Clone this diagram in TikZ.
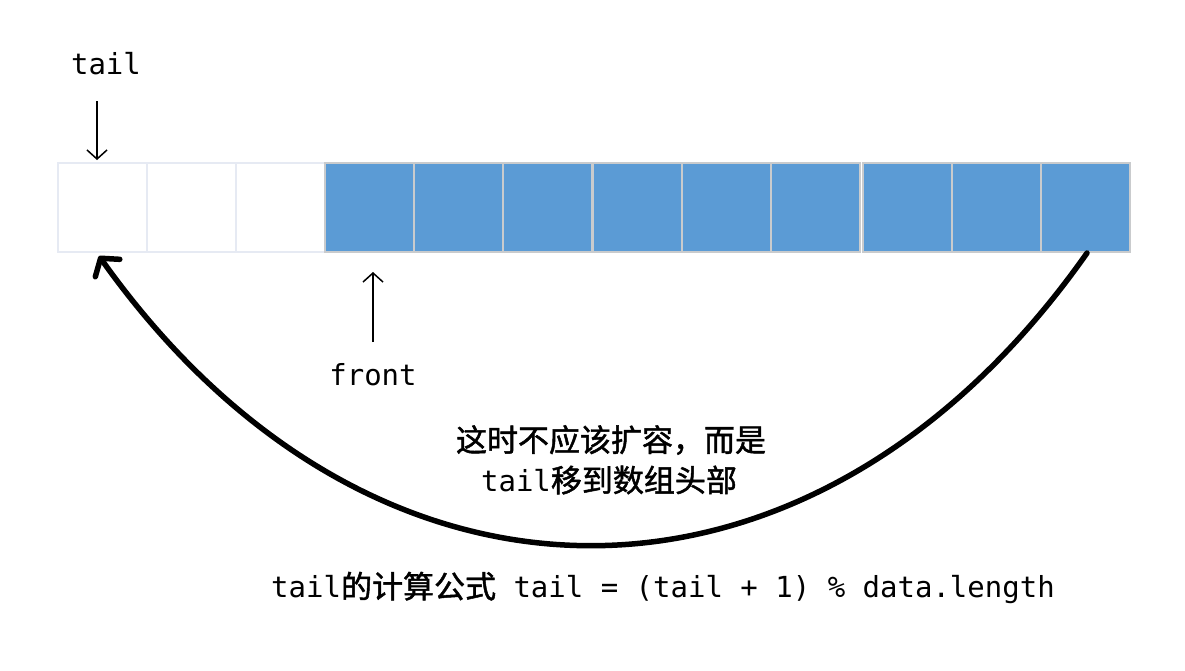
\documentclass[tikz,border=0pt]{standalone}
\usepackage{fontspec}
\setmonofont{DejaVu Sans Mono}
\newfontfamily\cjk[AutoFakeBold=1.5]{Noto Sans CJK SC}
\usetikzlibrary{arrows.meta}
\definecolor{cellblue}{HTML}{5B9BD5}
\definecolor{emptyedge}{HTML}{E6EAF3}
\definecolor{blueedge}{HTML}{C9CBCD}
\newcommand{\cjkbig}[1]{{\cjk\bfseries\fontsize{31}{40}\selectfont #1}}
\tikzset{
  cellbox/.style={minimum width=89pt, minimum height=89pt, inner sep=0pt, outer sep=0pt, anchor=north west, line width=1.2pt},
  emptycell/.style={cellbox, draw=emptyedge, fill=white},
  fullcell/.style={cellbox, draw=blueedge, fill=cellblue},
  monolbl/.style={font=\ttfamily\fontsize{29}{36}\selectfont, inner sep=0pt},
  cjklbl/.style={font=\ttfamily\fontsize{29}{40}\selectfont, inner sep=0pt, align=center},
  thinarrow/.style={line width=1.5pt, -{Straight Barb[length=9pt,width=20pt,line width=1.5pt]}},
  bigarrow/.style={line width=5.5pt, line cap=round, -{Straight Barb[length=12pt,width=30pt,line width=5.5pt,round]}}
}
\begin{document}
\begin{tikzpicture}[x=1pt,y=-1pt]
\useasboundingbox[fill=white] (0,0) rectangle (1185,670);
% cells
\node[emptycell] (c1) at (58,163) {};
\node[emptycell] (c2) at (147,163) {};
\node[emptycell] (c3) at (236,163) {};
\node[fullcell] (c4) at (325,163) {};
\node[fullcell] (c5) at (414,163) {};
\node[fullcell] (c6) at (503,163) {};
\node[fullcell] (c7) at (593,163) {};
\node[fullcell] (c8) at (682,163) {};
\node[fullcell] (c9) at (771,163) {};
\node[fullcell] (c10) at (863,163) {};
\node[fullcell] (c11) at (952,163) {};
\node[fullcell] (c12) at (1041,163) {};
% tail pointer
\node[monolbl] (taillbl) at (106,64) {tail};
\coordinate (tailfrom) at (97,101);
\coordinate (tailto) at (97,160);
\draw[thinarrow] (tailfrom) -- (tailto);
% front pointer
\coordinate (frontfrom) at (373,342);
\coordinate (frontto) at (373,272);
\draw[thinarrow] (frontfrom) -- (frontto);
\node[monolbl] (frontlbl) at (373,375) {front};
% big arc
\coordinate (arcstart) at (1087,253);
\coordinate (arcend) at (99,256);
\draw[bigarrow] (arcstart) .. controls (815,640) and (375,644) .. (arcend);
% texts
\node[cjklbl] (note1) at (611,440) {\cjkbig{这时不应该扩容，而是}};
\node[cjklbl] (note2) at (609,480) {tail\cjkbig{移到数组头部}};
\node[monolbl] (formula) at (663,588) {tail\cjkbig{的计算公式} tail = (tail + 1) \% data.length};
\end{tikzpicture}
\end{document}
